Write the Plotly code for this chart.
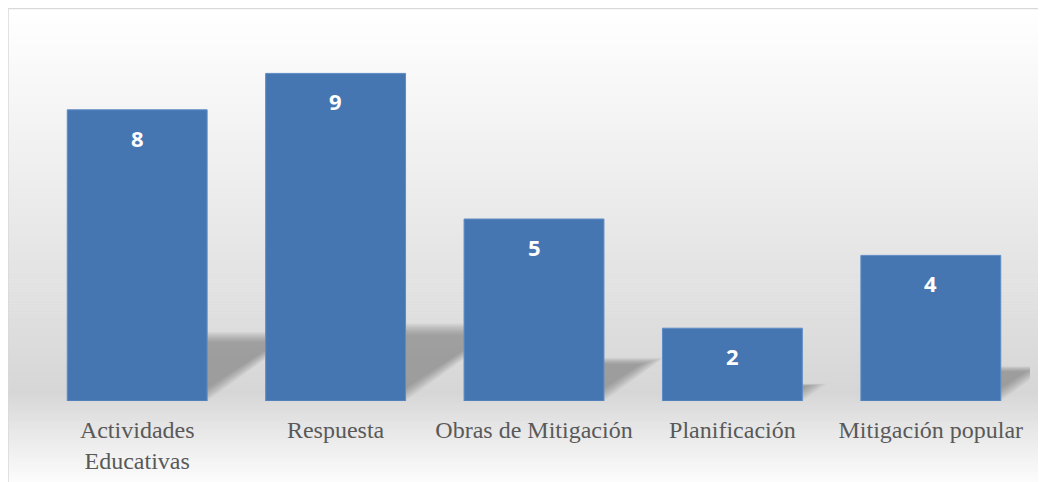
import plotly.graph_objects as go

# --- data ---
categories = ["Actividades<br>Educativas", "Respuesta", "Obras de Mitigación",
              "Planificación", "Mitigación popular"]
values = [8, 9, 5, 2, 4]

W, H = 1046, 482
ML, MR, MT, MB = 30, 24, 29, 89          # page has an 8px body offset
PW, PH = W - ML - MR, H - MT - MB
bar_color = "#4676b2"
bargap = 0.295
half = (1 - bargap) / 2

fig = go.Figure()
fig.add_trace(go.Bar(
    x=list(range(len(categories))), y=values,
    marker=dict(color=bar_color, line=dict(color="#5e8cc6", width=1)),
    hovertext=categories, hoverinfo="text+y",
))

# value labels, white bold, a little under the top of each bar
for i, v in enumerate(values):
    fig.add_annotation(x=i, y=v, text=f"<b>{v}</b>", showarrow=False, yshift=-28,
                       font=dict(family="Open Sans", size=22, color="white"))

shapes = []

# background gradient (white -> grey -> white) from thin bands over the whole page
def px2py(py):
    # page pixel row (figure coords) -> paper y
    return (H - MB - py) / PH

def grey_at(t):
    peak, lo = 0.80, 214
    if t < peak:
        g = 255 - (255 - lo) * (t / peak) ** 1.05
    else:
        g = lo + (255 - lo) * ((t - peak) / (1 - peak)) ** 0.9
    return int(round(g))

n = 160
x_left, x_right = -ML / PW, (W - ML) / PW
for i in range(n):
    top = H * i / n
    bot = H * (i + 1) / n
    g = grey_at((i + 0.5) / n)
    shapes.append(dict(type="rect", xref="paper", yref="paper",
                       x0=x_left, x1=x_right, y0=px2py(bot + 0.6), y1=px2py(top),
                       fillcolor=f"rgb({g},{g},{g})", line=dict(width=0),
                       layer="below"))

# soft perspective shadows cast to the right of each bar
px_per_cat = PW / len(categories)
px_per_y = PH / 10
for i, v in enumerate(values):
    sh = 0.22 * v                          # shadow height in y units
    dx = 1.5 * sh * px_per_y / px_per_cat  # horizontal skew in category units
    for k in range(12):
        f = k / 11
        s_top = sh * (1.08 - 0.16 * f)
        x0 = i - half + 0.03 * f
        x1 = i + half - 0.10 * f
        d = dx * (1.0 - 0.06 * f)
        path = (f"M {x0} 0 L {x1} 0 L {x1 + d} {s_top} "
                f"L {x0 + d} {s_top} Z")
        shapes.append(dict(type="path", xref="x", yref="y", path=path,
                           fillcolor="rgba(90,90,90,0.05)", line=dict(width=0),
                           layer="below"))

# thin frame round the chart
shapes.append(dict(type="rect", xref="paper", yref="paper",
                   x0=-ML / PW, x1=(W - 8 - ML - 1.5) / PW,
                   y0=px2py(H + 5), y1=px2py(0.5),
                   line=dict(color="#d9d9d9", width=1.5), fillcolor="rgba(0,0,0,0)"))

fig.update_layout(
    width=W, height=H,
    margin=dict(l=ML, r=MR, t=MT, b=MB),
    paper_bgcolor="white",
    plot_bgcolor="rgba(0,0,0,0)",
    bargap=bargap,
    showlegend=False,
    shapes=shapes,
    xaxis=dict(showgrid=False, zeroline=False, showline=False,
               tickmode="array", tickvals=list(range(len(categories))),
               ticktext=categories, range=[-0.5, len(categories) - 0.5],
               tickfont=dict(family="Liberation Serif", size=24, color="#595959"),
               ticks="outside", ticklen=7, tickcolor="rgba(0,0,0,0)"),
    yaxis=dict(range=[0, 10], visible=False),
)

fig.write_html("out.html")
